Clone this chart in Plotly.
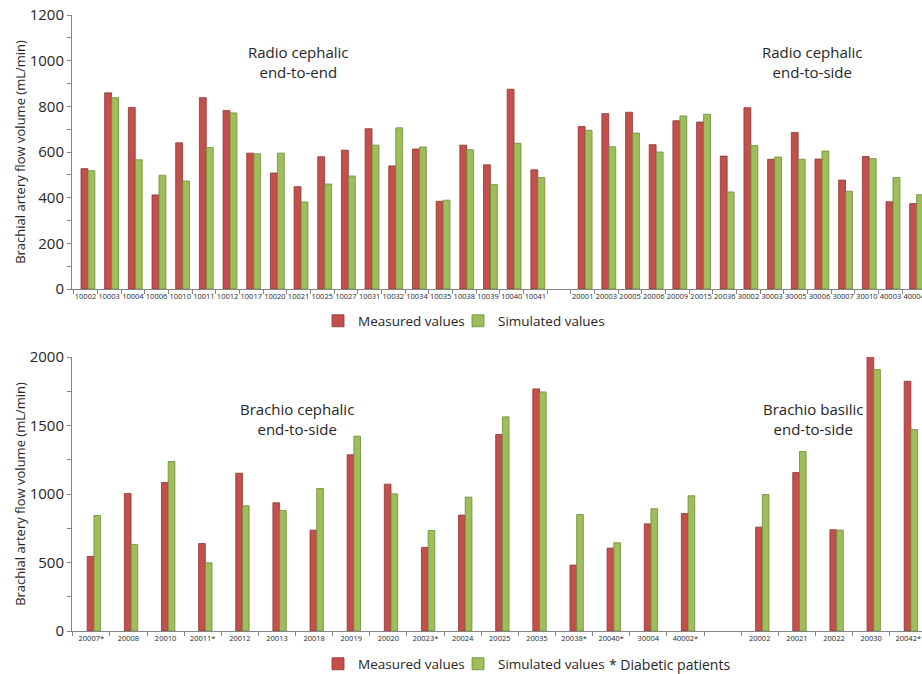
import plotly.graph_objects as go

# ---------------- data ----------------
top_categories = ["10002", "10003", "10004", "10006", "10010", "10011", "10012", "10017",
                  "10020", "10021", "10025", "10027", "10031", "10032", "10034", "10035",
                  "10038", "10039", "10040", "10041", " ",
                  "20001", "20003", "20005", "20006", "20009", "20015", "20036", "30002",
                  "30003", "30005", "30006", "30007", "30010", "40003", "40004"]
top_measured = [527, 859, 795, 412, 640, 838, 782, 595, 508, 448, 579, 608, 702, 539, 613, 384,
                630, 544, 875, 522, None,
                712, 768, 774, 632, 737, 731, 582, 794, 568, 685, 569, 477, 580, 382, 374]
top_simulated = [518, 838, 566, 498, 473, 620, 771, 592, 595, 381, 460, 495, 630, 706, 622, 389,
                 610, 457, 638, 488, None,
                 695, 623, 683, 600, 758, 765, 425, 628, 578, 568, 604, 428, 571, 488, 413]

bot_categories = ["20007*", "20008", "20010", "20011*", "20012", "20013", "20018", "20019",
                  "20020", "20023*", "20024", "20025", "20035", "20038*", "20040*", "30004",
                  "40002*", " ", "20002", "20021", "20022", "20030", "20042*"]
bot_measured = [544, 1004, 1084, 639, 1152, 936, 736, 1286, 1072, 610, 846, 1434, 1767, 481,
                605, 782, 858, None, 758, 1157, 739, 2017, 1823]
bot_simulated = [843, 632, 1237, 498, 914, 880, 1040, 1422, 1001, 734, 977, 1563, 1745, 851,
                 644, 892, 987, None, 996, 1310, 736, 1908, 1470]

y_title = "Brachial artery flow volume (mL/min)"
series_names = ["Measured values", "Simulated values"]

# ---------------- styling ----------------
RED = "#C4504D"
RED_LINE = "#8E3431"
GREEN = "#9DBE5A"
GREEN_LINE = "#6F8A3A"
TXT = "#262626"
AX = "#868686"
FONT = "Open Sans"

W, H = 922, 674
ML = 72

def px(x):
    return (x - ML) / (W - ML)

def py(y):
    return 1 - y / H

fig = go.Figure()

# top chart
fig.add_trace(go.Bar(x=top_categories, y=top_measured, name=series_names[0],
                     marker=dict(color=RED, line=dict(color=RED_LINE, width=0.8)),
                     width=0.29, offset=-0.19, xaxis="x", yaxis="y", legend="legend",
                     legendwidth=95))
fig.add_trace(go.Bar(x=top_categories, y=top_simulated, name=series_names[1],
                     marker=dict(color=GREEN, line=dict(color=GREEN_LINE, width=0.8)),
                     width=0.29, offset=0.105, xaxis="x", yaxis="y", legend="legend",
                     legendwidth=125))
# bottom chart
fig.add_trace(go.Bar(x=bot_categories, y=bot_measured, name=series_names[0],
                     marker=dict(color=RED, line=dict(color=RED_LINE, width=0.8)),
                     width=0.18, offset=-0.11, xaxis="x2", yaxis="y2", legend="legend2",
                     legendwidth=95))
fig.add_trace(go.Bar(x=bot_categories, y=bot_simulated, name=series_names[1],
                     marker=dict(color=GREEN, line=dict(color=GREEN_LINE, width=0.8)),
                     width=0.18, offset=0.07, xaxis="x2", yaxis="y2", legend="legend2",
                     legendwidth=125))

xcommon = dict(type="category", showline=True, linecolor=AX, linewidth=1,
               ticks="outside", tickson="boundaries", ticklen=4, tickcolor=AX,
               showgrid=False, zeroline=False, automargin=False, tickangle=0)
ycommon = dict(showline=True, linecolor=AX, linewidth=1, ticks="outside", ticklen=4,
               tickcolor=AX, showgrid=False, zeroline=False, automargin=False,
               tickfont=dict(size=15, color=TXT, family=FONT),
               title=dict(text=y_title, font=dict(size=13, color=TXT, family=FONT), standoff=1))

legend_common = dict(orientation="h", xanchor="left", yanchor="middle",
                     font=dict(size=13.5, color=TXT, family=FONT), bgcolor="rgba(0,0,0,0)",
                     itemwidth=30, tracegroupgap=0)

ann_font = dict(size=15, color=TXT, family=FONT)

fig.update_layout(
    width=W, height=H,
    margin=dict(l=ML, r=0, t=0, b=0, autoexpand=False),
    paper_bgcolor="white", plot_bgcolor="white",
    barmode="overlay",
    font=dict(family=FONT, color=TXT),
    xaxis=dict(**xcommon, domain=[0, 1], anchor="y", range=[-0.57, 35.33],
               categoryorder="array", categoryarray=top_categories,
               tickfont=dict(size=7.5, color=TXT, family=FONT)),
    yaxis=dict(**ycommon, domain=[py(289), py(15)], anchor="x", range=[0, 1200], dtick=200,
               minor=dict(dtick=100, ticks="outside", ticklen=4, tickcolor=AX)),
    xaxis2=dict(**xcommon, domain=[0, 1], anchor="y2", range=[-0.52, 22.37],
                categoryorder="array", categoryarray=bot_categories,
                tickfont=dict(size=7.5, color=TXT, family=FONT)),
    yaxis2=dict(**ycommon, domain=[py(631), py(357)], anchor="x2", range=[0, 2000], dtick=500,
                minor=dict(dtick=250, ticks="outside", ticklen=4, tickcolor=AX)),
    legend=dict(**legend_common, x=px(318), y=py(321)),
    legend2=dict(**legend_common, x=px(318), y=py(664)),
    annotations=[
        dict(text="Radio cephalic<br>end-to-end", x=px(298), y=py(62), xref="paper", yref="paper",
             xanchor="center", yanchor="middle", showarrow=False, font=ann_font, align="center"),
        dict(text="Radio cephalic<br>end-to-side", x=px(812), y=py(62), xref="paper", yref="paper",
             xanchor="center", yanchor="middle", showarrow=False, font=ann_font, align="center"),
        dict(text="Brachio cephalic<br>end-to-side", x=px(297), y=py(419), xref="paper", yref="paper",
             xanchor="center", yanchor="middle", showarrow=False, font=ann_font, align="center"),
        dict(text="Brachio basilic<br>end-to-side", x=px(813), y=py(419), xref="paper", yref="paper",
             xanchor="center", yanchor="middle", showarrow=False, font=ann_font, align="center"),
        dict(text="* Diabetic patients", x=px(607), y=py(664), xref="paper", yref="paper",
             xanchor="left", yanchor="middle", showarrow=False,
             font=dict(size=14, color=TXT, family=FONT)),
    ],
)

fig.write_html("out.html", config={"displayModeBar": False},
               post_script="document.body.style.margin='0';document.body.style.overflow='hidden';")
